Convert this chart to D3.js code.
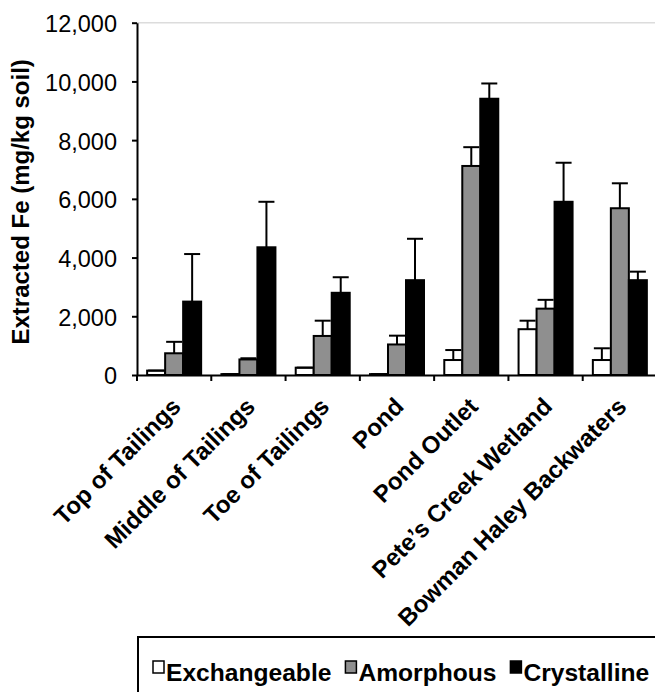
<!DOCTYPE html>
<html>
<head>
<meta charset="utf-8">
<script src="https://cdn.jsdelivr.net/npm/d3@7/dist/d3.min.js"></script>
<style>
  body { margin: 0; background: #fff; }
  svg { display: block; font-family: 'Liberation Sans', Arial, sans-serif; }
</style>
</head>
<body>
<svg id="chart" width="655" height="692"></svg>
<script>
// data (mg/kg soil)
const categories = ['Top of Tailings', 'Middle of Tailings', 'Toe of Tailings', 'Pond',
  'Pond Outlet', 'Pete\u2019s Creek Wetland', 'Bowman Haley Backwaters']
const seriesNames = ['Exchangeable', 'Amorphous', 'Crystalline']

const exchangeable = [150, 30, 250, 30, 510, 1560, 510]
const exchangeableErr = [0, 0, 0, 0, 340, 290, 400]
const amorphous = [740, 530, 1330, 1040, 7120, 2260, 5680]
const amorphousErr = [390, 40, 520, 300, 640, 300, 850]
const crystalline = [2500, 4350, 2800, 3230, 9410, 5900, 3230]
const crystallineErr = [1620, 1550, 530, 1410, 520, 1330, 290]

const yTicks = [0, 2000, 4000, 6000, 8000, 10000, 12000]
const yTitle = 'Extracted Fe (mg/kg soil)'

const fills = { Exchangeable: '#ffffff', Amorphous: '#8f8f8f', Crystalline: '#000000' }

const series = [
  { name: 'Exchangeable', values: exchangeable, errs: exchangeableErr },
  { name: 'Amorphous', values: amorphous, errs: amorphousErr },
  { name: 'Crystalline', values: crystalline, errs: crystallineErr }
]

// plot area
const plotLeft = 137
const plotTop = 22.7
const plotRight = 657
const plotBottom = 375

const svg = d3.select('#chart')

const x0 = d3.scaleBand()
  .domain(categories)
  .range([plotLeft, plotRight])
  .paddingInner(0.273)
  .paddingOuter(0.1365)

const x1 = d3.scaleBand()
  .domain(seriesNames)
  .range([0, x0.bandwidth()])

const y = d3.scaleLinear()
  .domain([0, 12000])
  .range([plotBottom, plotTop])

// light plot-area border on top
svg.append('line')
  .attr('x1', plotLeft).attr('x2', plotRight)
  .attr('y1', y(12000)).attr('y2', y(12000))
  .attr('stroke', '#dcdcdc')
  .attr('stroke-width', 1.5)

// bars
series.forEach(s => {
  const g = svg.append('g').attr('class', 'series-' + s.name)

  g.selectAll('rect')
    .data(categories)
    .join('rect')
    .attr('x', (c) => x0(c) + x1(s.name))
    .attr('y', (c, i) => y(s.values[i]))
    .attr('width', x1.bandwidth())
    .attr('height', (c, i) => y(0) - y(s.values[i]))
    .attr('fill', fills[s.name])
    .attr('stroke', '#000')
    .attr('stroke-width', 2)

  // error bars (plus only)
  const cx = c => x0(c) + x1(s.name) + x1.bandwidth() / 2
  const capW = x1.bandwidth() - 2

  g.selectAll('line.err')
    .data(categories)
    .join('line')
    .attr('class', 'err')
    .attr('x1', cx).attr('x2', cx)
    .attr('y1', (c, i) => y(s.values[i]))
    .attr('y2', (c, i) => y(s.values[i] + s.errs[i]))
    .attr('stroke', '#000')
    .attr('stroke-width', 2)

  g.selectAll('line.cap')
    .data(categories)
    .join('line')
    .attr('class', 'cap')
    .attr('x1', c => cx(c) - capW / 2)
    .attr('x2', c => cx(c) + capW / 2)
    .attr('y1', (c, i) => y(s.values[i] + s.errs[i]))
    .attr('y2', (c, i) => y(s.values[i] + s.errs[i]))
    .attr('stroke', '#000')
    .attr('stroke-width', 2)
})

// y axis
const yAxis = d3.axisLeft(y)
  .tickValues(yTicks)
  .tickSize(5)
  .tickSizeOuter(0)
  .tickPadding(15)
  .tickFormat(d3.format(','))

const gy = svg.append('g')
  .attr('transform', 'translate(' + plotLeft + ', 0)')
  .call(yAxis)

gy.select('.domain').attr('stroke-width', 2)
gy.selectAll('.tick line').attr('stroke-width', 2)
gy.selectAll('.tick text')
  .attr('font-size', 23.5)
  .attr('font-family', "'Liberation Sans', Arial, sans-serif")
  .attr('fill', '#000')
  .attr('dy', '0.38em')

// x axis: labels at category centres, ticks on category boundaries
const xAxis = d3.axisBottom(x0).tickSize(0).tickSizeOuter(0)

const gx = svg.append('g')
  .attr('transform', 'translate(0, ' + plotBottom + ')')
  .call(xAxis)

gx.select('.domain').attr('stroke-width', 2)
gx.selectAll('.tick text')
  .attr('font-size', 24)
  .attr('font-weight', 'bold')
  .attr('font-family', "'Liberation Sans', Arial, sans-serif")
  .attr('fill', '#000')
  .attr('text-anchor', 'end')
  .attr('dy', null)
  .attr('y', 0)
  .attr('transform', 'translate(8, 33) rotate(-45)')

const outer = (x0.step() - x0.bandwidth()) / 2
const bounds = categories.map(c => x0(c) - outer).concat([plotRight])

gx.selectAll('line.bound')
  .data(bounds)
  .join('line')
  .attr('class', 'bound')
  .attr('x1', d => d).attr('x2', d => d)
  .attr('y1', 0).attr('y2', 6)
  .attr('stroke', '#000')
  .attr('stroke-width', 2)

// y title
svg.append('text')
  .attr('transform', 'translate(29, ' + ((plotTop + plotBottom) / 2 + 3) + ') rotate(-90)')
  .attr('text-anchor', 'middle')
  .attr('font-size', 24)
  .attr('font-weight', 'bold')
  .text(yTitle)

// legend
const legend = svg.append('g')

legend.append('rect')
  .attr('x', 138).attr('y', 637)
  .attr('width', 600).attr('height', 120)
  .attr('fill', '#fff')
  .attr('stroke', '#000')
  .attr('stroke-width', 2)

let lx = 153
seriesNames.forEach(name => {
  legend.append('rect')
    .attr('x', lx).attr('y', 661)
    .attr('width', 11).attr('height', 12)
    .attr('fill', fills[name])
    .attr('stroke', '#000')
    .attr('stroke-width', 1.5)

  const t = legend.append('text')
    .attr('x', lx + 13)
    .attr('y', 681)
    .attr('font-size', 24.6)
    .attr('font-weight', 'bold')
    .text(name)

  lx += 13 + t.node().getComputedTextLength() + 14
})
</script>
</body>
</html>
